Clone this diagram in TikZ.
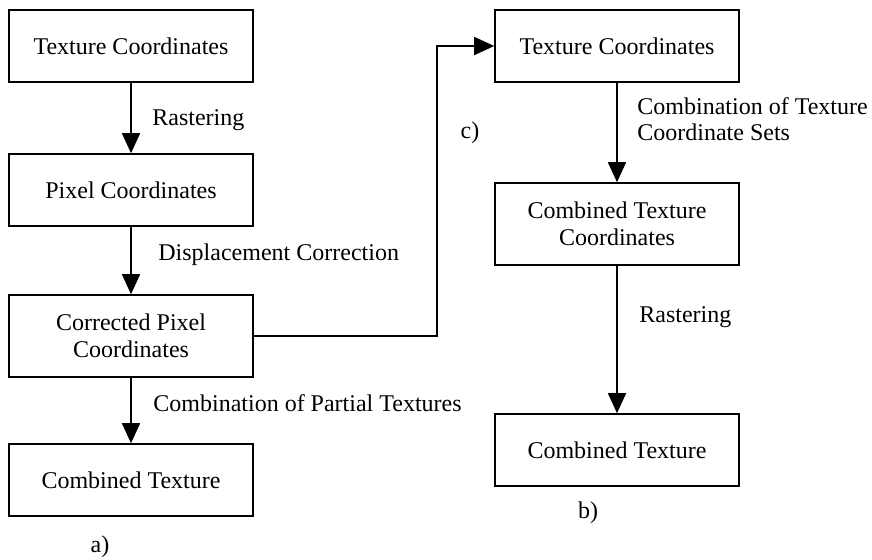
\documentclass[tikz,border=0pt]{standalone}
\usepackage{fontspec}
\setmainfont{Liberation Serif}
\usetikzlibrary{arrows.meta}
\begin{document}
\begin{tikzpicture}[x=0.5pt,y=-0.5pt,
    stage/.style={draw,line width=0.8pt,minimum width=122pt,minimum height=36pt,
      inner sep=2pt,align=center,font=\fontsize{12}{13.5}\selectfont},
    tall/.style={minimum height=41pt},
    caption/.style={anchor=west,align=left,inner sep=0pt,font=\fontsize{12}{13}\selectfont},
    flow/.style={line width=0.8pt,-{Triangle[length=10pt,width=9pt]}}]
  \useasboundingbox (0,0) rectangle (872,559);
  % left chain a)
  \draw
    (131,46) node[stage] (texA){Texture Coordinates}
    (131,190) node[stage] (pixA){Pixel Coordinates}
    (131,336) node[stage,tall] (corA){Corrected Pixel\\Coordinates}
    (131,480) node[stage] (combA){Combined Texture};
  % right chain b)
  \draw
    (617,46) node[stage] (texB){Texture Coordinates}
    (617,224) node[stage,tall] (ctcB){Combined Texture\\Coordinates}
    (617,450) node[stage] (combB){Combined Texture};
  \coordinate (bend) at (437,46);
  % labels
  \node[caption] (rasA) at (152,120) {Rastering};
  \node[caption] (dispA) at (158,255) {Displacement Correction};
  \node[caption] (partA) at (153,403) {Combination of Partial Textures};
  \node[caption] (setsB) at (637,119) {Combination of Texture\\Coordinate Sets};
  \node[caption] (rasB) at (639,317) {Rastering};
  \node[font=\fontsize{12}{13}\selectfont] (labC) at (470,133) {c)};
  \node[font=\fontsize{12}{13}\selectfont] (labA) at (100,547) {a)};
  \node[font=\fontsize{12}{13}\selectfont] (labB) at (588,513) {b)};
  \begin{scope}[flow]
    \draw (texA) to (pixA);
    \draw (pixA) to (corA);
    \draw (corA) to (combA);
    \draw (texB) to (ctcB);
    \draw (ctcB) to (combB);
    \draw (corA.east) -| (bend) -- (texB.west);
  \end{scope}
\end{tikzpicture}
\end{document}
